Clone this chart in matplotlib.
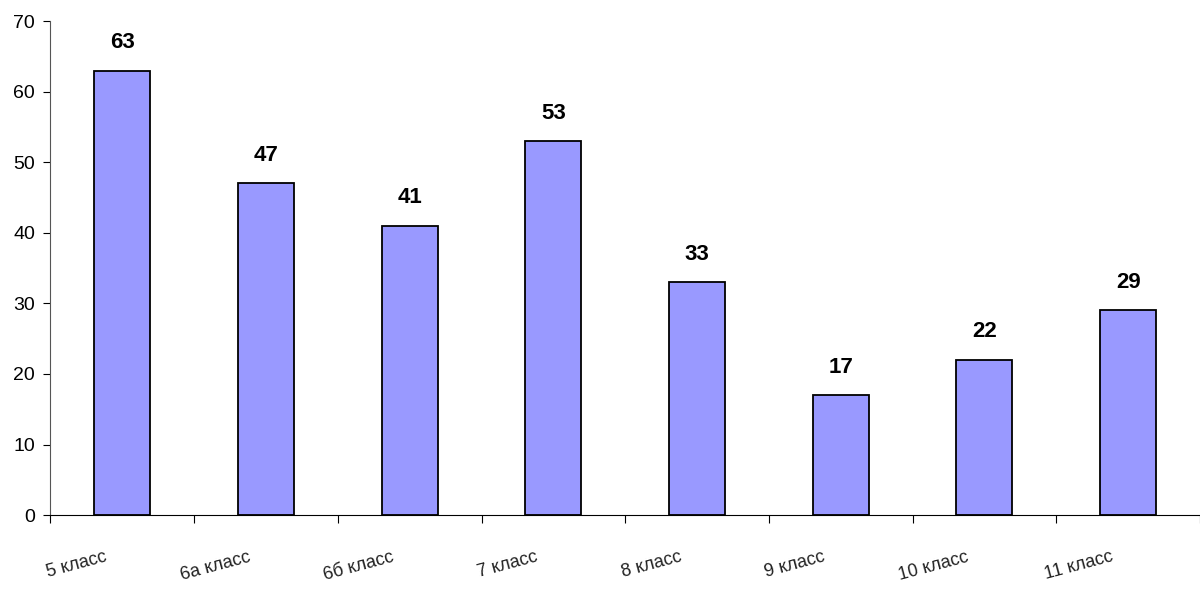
import matplotlib.pyplot as plt
import matplotlib.transforms as mtransforms
import numpy as np

plt.rcParams['font.family'] = ['Liberation Sans', 'DejaVu Sans']

classes = ['5 класс', '6а класс', '6б класс', '7 класс', '8 класс', '9 класс', '10 класс', '11 класс']
counts = [63, 47, 41, 53, 33, 17, 22, 29]

fig = plt.figure(figsize=(12, 5.9), dpi=100)
ax = fig.add_axes([0.042, 0.127, 0.958, 0.837])

x = np.arange(len(classes))
ax.bar(x, counts, width=0.39, color='#9999FF', edgecolor='black', linewidth=1.3)

for xi, v in zip(x, counts):
    ax.text(xi, v + 2.5, str(v), ha='center', va='bottom', fontsize=16, fontweight='bold')

ax.set_xlim(-0.5, len(classes) - 0.5)
ax.set_ylim(0, 70)
ax.set_yticks(range(0, 71, 10))
ax.tick_params(axis='y', labelsize=14, length=5, direction='out', pad=6)

# category ticks at the boundaries, labels at the centres
ax.set_xticks(np.arange(len(classes) + 1) - 0.5)
ax.set_xticklabels([])
ax.tick_params(axis='x', length=6, direction='out')
ax.set_xticks(x, minor=True)
ax.set_xticklabels(classes, minor=True, rotation=15, ha='right', rotation_mode='anchor',
                   fontsize=13, color='#222222')
ax.tick_params(axis='x', which='minor', length=0, pad=24)
shift = mtransforms.ScaledTranslation(-0.18, 0, fig.dpi_scale_trans)
for lbl in ax.get_xticklabels(minor=True):
    lbl.set_transform(lbl.get_transform() + shift)

ax.spines['top'].set_visible(False)
ax.spines['right'].set_visible(False)
ax.spines['left'].set_color('#555555')

fig.savefig('out.png', dpi=100)
